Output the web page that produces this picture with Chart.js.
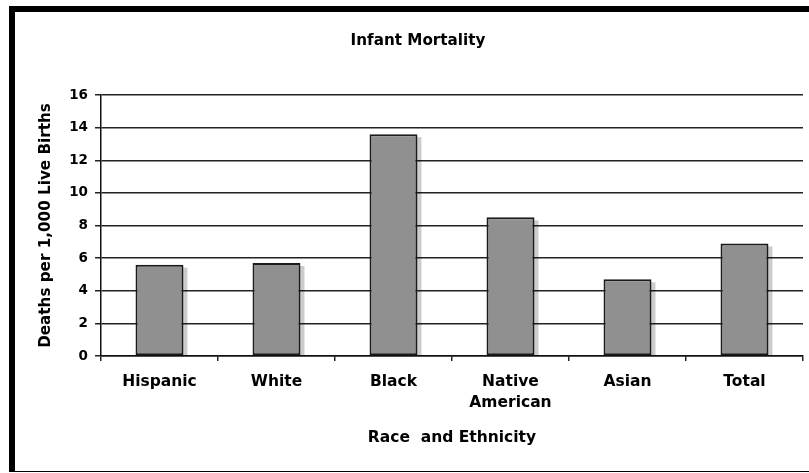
<!DOCTYPE html>
<html>
<head>
<meta charset="utf-8">
<title>Infant Mortality</title>
<script src="https://cdn.jsdelivr.net/npm/chart.js@4/dist/chart.umd.min.js"></script>
<style>
  html, body { margin: 0; padding: 0; background: #fff; }
  body { width: 809px; height: 473px; position: relative; overflow: hidden; }
  #frame {
    position: absolute; left: 9px; top: 6px;
    width: 794px; height: 459px;
    border-left: 6px solid #000; border-top: 6px solid #000; border-bottom: 1px solid #000;
  }
  #wrap { position: absolute; left: 0; top: 0; width: 809px; height: 473px; }
</style>
</head>
<body>
<div id="frame"></div>
<div id="wrap"><canvas id="chart" width="809" height="473"></canvas></div>
<script>
// Infant deaths per 1,000 live births, by race and ethnicity
const categories = ['Hispanic', 'White', 'Black', ['Native', 'American'], 'Asian', 'Total'];
const deathRates = [5.6, 5.7, 13.6, 8.5, 4.7, 6.9];
const yTicks = [0, 2, 4, 6, 8, 10, 12, 14, 16];

const FONT = 'DejaVu Sans';

// Soft grey drop shadow behind each bar, placed from the bar elements themselves
const barShadow = {
  id: 'barShadow',
  beforeDatasetsDraw(chart) {
    const ctx = chart.ctx;
    const meta = chart.getDatasetMeta(0);
    ctx.save();
    ctx.fillStyle = 'rgba(0,0,0,0.2)';
    meta.data.forEach(bar => {
      const p = bar.getProps(['x', 'y', 'base', 'width'], true);
      const left = p.x - p.width / 2 + 4;
      const top = p.y + 3;
      ctx.fillRect(left, top, p.width, p.base - top);
    });
    ctx.restore();
  }
};

// The chart heading sits a little left of the plot centre
const titlePlacement = {
  id: 'titlePlacement',
  afterLayout(chart) {
    const t = chart.titleBlock;
    if (t) { t.left = 33; t.right = chart.chartArea.right; }
  }
};

new Chart(document.getElementById('chart'), {
  type: 'bar',
  data: {
    labels: categories,
    datasets: [{
      data: deathRates,
      backgroundColor: '#909090',
      borderColor: '#1a1a1a',
      borderWidth: 2,
      borderSkipped: false,
      barPercentage: 0.41,
      categoryPercentage: 1.0
    }]
  },
  options: {
    responsive: false,
    animation: false,
    layout: { padding: { left: 0, right: 6, top: 0, bottom: 0 } },
    plugins: {
      legend: { display: false },
      tooltip: { enabled: false },
      title: {
        display: true,
        text: 'Infant Mortality',
        color: '#000',
        font: { family: FONT, weight: 'bold', size: 15.2, lineHeight: 1.2 },
        padding: { top: 31.8, bottom: 45 }
      }
    },
    scales: {
      x: {
        grid: { display: true, drawOnChartArea: false, drawTicks: true, tickLength: 5, color: '#222', lineWidth: 1.5, offset: true },
        border: { display: true, color: '#111', width: 1.5 },
        ticks: {
          color: '#000',
          padding: 11,
          maxRotation: 0,
          autoSkip: false,
          font: { family: FONT, weight: 'bold', size: 15.5, lineHeight: 1.35 }
        },
        title: {
          display: true,
          text: 'Race  and Ethnicity',
          color: '#000',
          font: { family: FONT, weight: 'bold', size: 15.5, lineHeight: 1.2 },
          padding: { top: 0, bottom: 25.5 }
        },
        afterFit(scale) { scale.height = 117; }
      },
      y: {
        min: 0,
        max: 16,
        afterBuildTicks(scale) { scale.ticks = yTicks.map(v => ({ value: v })); },
        grid: { color: '#222', lineWidth: 1.5, drawTicks: true, tickLength: 6 },
        border: { display: true, color: '#111', width: 1.5 },
        ticks: {
          color: '#000',
          padding: 7,
          font: { family: FONT, weight: 'bold', size: 13.5 }
        },
        title: {
          display: true,
          text: 'Deaths per 1,000 Live Births',
          color: '#000',
          font: { family: FONT, weight: 'bold', size: 15.2, lineHeight: 1.2 },
          padding: { top: 37, bottom: 0 }
        },
        afterFit(scale) { scale.width = 101; }
      }
    }
  },
  plugins: [barShadow, titlePlacement]
});
</script>
</body>
</html>
